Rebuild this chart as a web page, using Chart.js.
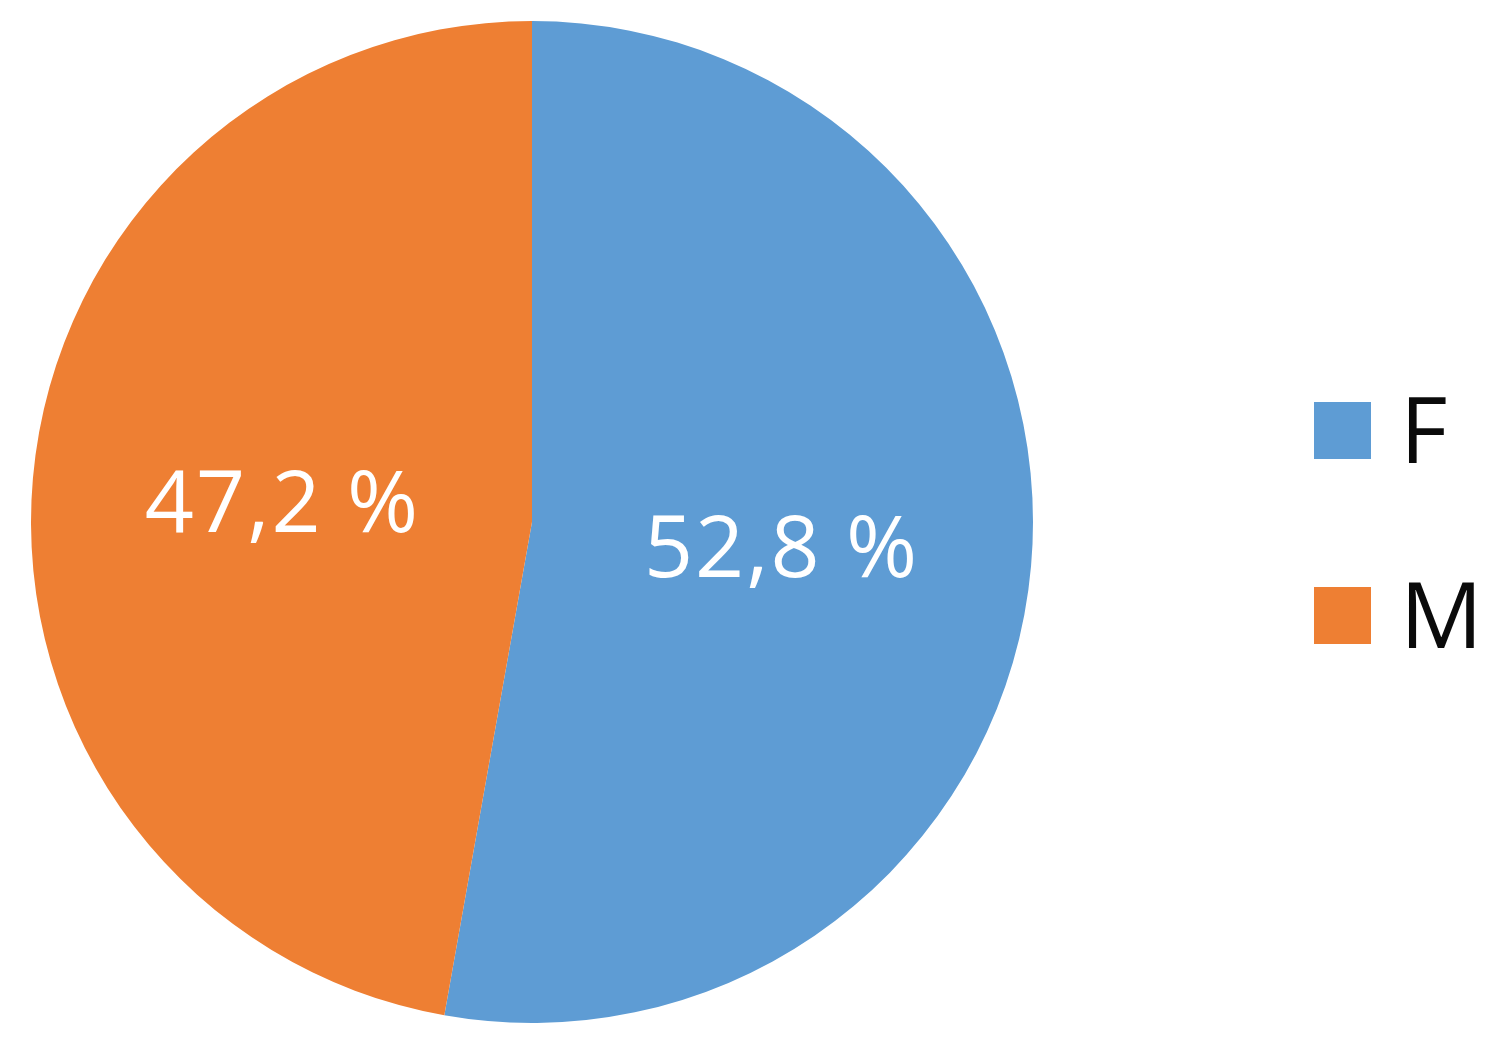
<!DOCTYPE html>
<html>
<head>
<meta charset="utf-8">
<script src="https://cdn.jsdelivr.net/npm/chart.js@4/dist/chart.umd.min.js"></script>
<style>
  html, body { margin: 0; padding: 0; background: #fff; }
  #wrap { position: relative; width: 1500px; height: 1041px; }
</style>
</head>
<body>
<div id="wrap"><canvas id="chart" width="1500" height="1041"></canvas></div>
<script>
// valeurs
var categories = ['F', 'M'];
var values = [52.8, 47.2];
var colors = ['#5E9CD4', '#EE7F33'];

var FONT = '"Open Sans", "Noto Sans", sans-serif';

// étiquettes de valeur au centre de chaque part
var sliceLabels = {
	id: 'sliceLabels',
	afterDatasetsDraw: function(chart){
		var ctx = chart.ctx,
			meta = chart.getDatasetMeta(0);
		ctx.save();
		ctx.fillStyle = '#ffffff';
		ctx.font = '86px ' + FONT;
		ctx.letterSpacing = '2px';
		ctx.textAlign = 'center';
		ctx.textBaseline = 'middle';
		meta.data.forEach(function(arc, i){
			var p = arc.getCenterPoint();
			var txt = values[i].toFixed(1).replace('.', ',') + ' %';
			ctx.fillText(txt, p.x, p.y + 8);
		});
		ctx.restore();
	}
};

// légende à droite (carrés + libellés)
var sideLegend = {
	id: 'sideLegend',
	afterDraw: function(chart){
		var ctx = chart.ctx,
			labels = chart.data.labels,
			bg = chart.data.datasets[0].backgroundColor,
			boxX = 1314, boxSize = 57,
			top = 402, step = 185;
		ctx.save();
		ctx.font = '92px ' + FONT;
		ctx.textAlign = 'left';
		ctx.textBaseline = 'alphabetic';
		labels.forEach(function(lbl, i){
			var y = top + step * i;
			ctx.fillStyle = bg[i];
			ctx.fillRect(boxX, y, boxSize, boxSize);
			ctx.fillStyle = '#0a0a0a';
			ctx.fillText(lbl, 1400, y + 61);
		});
		ctx.restore();
	}
};

new Chart(document.getElementById('chart'), {
	type: 'pie',
	data: {
		labels: categories,
		datasets: [{
			data: values,
			backgroundColor: colors,
			borderWidth: 0
		}]
	},
	options: {
		responsive: false,
		animation: false,
		layout: { padding: { left: 31, top: 21, right: 467, bottom: 18 } },
		plugins: {
			legend: { display: false },
			tooltip: { enabled: false }
		}
	},
	plugins: [sliceLabels, sideLegend]
});
</script>
</body>
</html>
